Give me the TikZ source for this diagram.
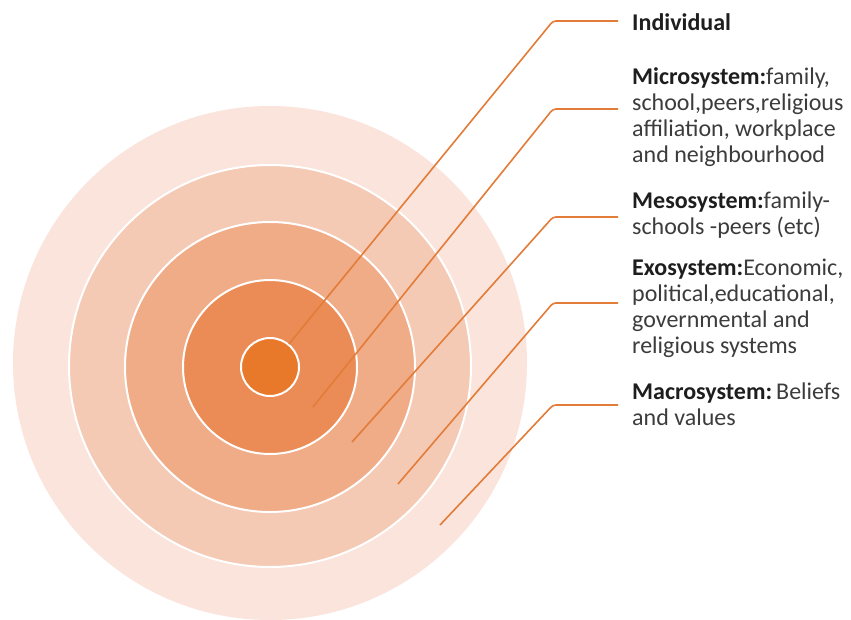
\documentclass[tikz,border=0pt]{standalone}
\usepackage{fontspec}
\setmainfont{Carlito}
\definecolor{ringA}{HTML}{FAE4DB}
\definecolor{ringB}{HTML}{F5CAB5}
\definecolor{ringC}{HTML}{F0AB87}
\definecolor{ringD}{HTML}{EB8C56}
\definecolor{ringE}{HTML}{E8782A}
\definecolor{leader}{HTML}{E27C38}
\definecolor{boldtxt}{HTML}{1E1E1E}
\definecolor{regtxt}{HTML}{3C3C3C}
\tikzset{
  ring/.style={circle, inner sep=0pt, draw=white, line width=2pt},
  leaderline/.style={draw=leader, line width=1.6pt, rounded corners=3pt},
  txt/.style={anchor=north west, inner sep=0pt, align=left, text=regtxt,
    font=\fontsize{24pt}{26pt}\selectfont},
}
\newcommand{\hd}[1]{\textcolor{boldtxt}{\textbf{#1}}}
\begin{document}
\begin{tikzpicture}[x=1pt,y=-1pt]
\useasboundingbox (0,0) rectangle (851,619);
\fill[white] (0,0) rectangle (851,619);
% rings
\node[circle, inner sep=0pt, fill=ringA, minimum size=514pt] (c1) at (270,363) {};
\node[ring, fill=ringB, minimum size=402pt] (c2) at (270,366) {};
\node[ring, fill=ringC, minimum size=290pt] (c3) at (270,367) {};
\node[ring, fill=ringD, minimum size=174pt] (c4) at (270,367) {};
\node[ring, fill=ringE, minimum size=58pt] (c5) at (270,367) {};
% leader coordinates
\coordinate (e1) at (289,344); \coordinate (k1) at (553,21);  \coordinate (h1) at (618,21);
\coordinate (e2) at (313,407); \coordinate (k2) at (553,109); \coordinate (h2) at (618,109);
\coordinate (e3) at (352,442); \coordinate (k3) at (553,217); \coordinate (h3) at (618,217);
\coordinate (e4) at (398,484); \coordinate (k4) at (553,303); \coordinate (h4) at (618,303);
\coordinate (e5) at (440,525); \coordinate (k5) at (553,405); \coordinate (h5) at (618,405);
\foreach \i in {1,...,5} { \draw[leaderline] (e\i) -- (k\i) -- (h\i); }
% texts
\node[txt] (t1) at (632,11) {\rule{0pt}{19pt}\hd{Individual}};
\node[txt] (t2) at (632,65) {\rule{0pt}{19pt}\hd{Microsystem:}family,\\school,peers,religious\\affiliation, workplace\\and neighbourhood};
\node[txt] (t3) at (632,189) {\rule{0pt}{19pt}\hd{Mesosystem:}family-\\schools -peers (etc)};
\node[txt] (t4) at (632,256) {\rule{0pt}{19pt}\hd{Exosystem:}Economic,\\political,educational,\\governmental and\\religious systems};
\node[txt] (t5) at (632,380) {\rule{0pt}{19pt}\hd{Macrosystem:}\,Beliefs\\and values};
\end{tikzpicture}
\end{document}
